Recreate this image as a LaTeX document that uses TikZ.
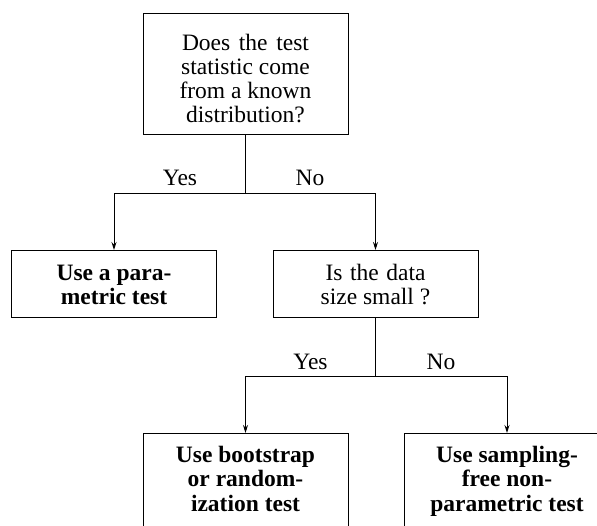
\documentclass[tikz,border=0pt]{standalone}
\usepackage{fontspec}
\setmainfont{Liberation Serif}
\usetikzlibrary{arrows.meta}
\tikzset{
  box/.style={draw, line width=0.9pt, minimum width=205pt, align=center, inner sep=0pt,
    font=\fontsize{23.5}{24}\selectfont},
  boldbox/.style={box, font=\fontsize{23.5}{24.5}\selectfont\bfseries},
  lbl/.style={font=\fontsize{23.5}{24}\selectfont, inner sep=0pt, anchor=base},
  conn/.style={line width=0.9pt},
  arr/.style={conn, -{Stealth[length=8pt,width=5pt]}}
}
\begin{document}
\begin{tikzpicture}[x=1pt,y=-1pt]
\useasboundingbox (0,0) rectangle (597,526);
\node[box, anchor=north] (q1) at (245.5,13)
  {\rule{0pt}{37.5pt}\makebox[127pt][s]{Does the test}\\statistic come\\from a known\\distribution?\rule[-12pt]{0pt}{0pt}};
\node[boldbox, anchor=north] (param) at (114,250)
  {\rule{0pt}{30pt}Use a para-\\metric test\rule[-13pt]{0pt}{0pt}};
\node[box, anchor=north] (q2) at (375.5,250)
  {\rule{0pt}{30pt}\makebox[100pt][s]{Is the data}\\size small ?\rule[-13.5pt]{0pt}{0pt}};
\node[boldbox, anchor=north] (boot) at (245.5,433)
  {\rule{0pt}{29pt}Use bootstrap\\or random-\\ization test\rule[-22pt]{0pt}{0pt}};
\node[boldbox, anchor=north] (free) at (507,433)
  {\rule{0pt}{29pt}Use sampling-\\free non-\\parametric test\rule[-22pt]{0pt}{0pt}};
\coordinate (j1) at (245.5,193);
\coordinate (j2) at (375.5,376);
\draw[conn] (q1) -- (j1);
\draw[arr] (j1) -| (param);
\draw[arr] (j1) -| (q2);
\draw[conn] (q2) -- (j2);
\draw[arr] (j2) -| (boot);
\draw[arr] (j2) -| (free);
\node[lbl] (y1) at (180,186) {Yes};
\node[lbl] (n1) at (310,186) {No};
\node[lbl] (y2) at (310.5,370) {Yes};
\node[lbl] (n2) at (441,370) {No};
\end{tikzpicture}
\end{document}
